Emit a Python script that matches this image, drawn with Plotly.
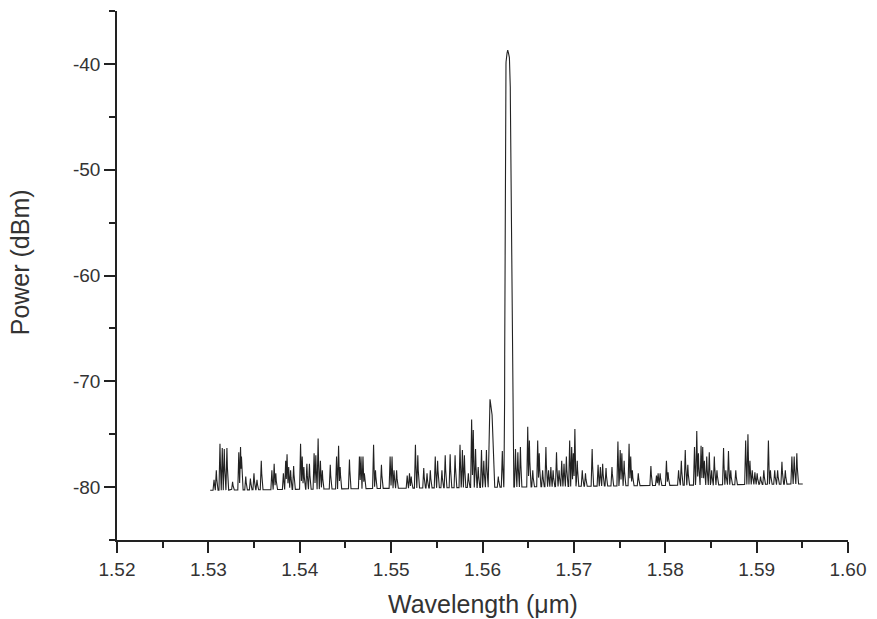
import numpy as np
import plotly.graph_objects as go

# Noise spikes of the ASE floor: centre wavelength (nm) and peak power (dBm)
spike_nm = [
    1530.62, 1530.87, 1531.27, 1531.52, 1531.74, 1532.03, 1532.65, 1533.33, 1533.52, 1533.62,
    1534.09, 1534.60, 1534.99, 1535.32, 1535.79, 1536.95, 1537.20, 1537.38, 1538.21, 1538.46,
    1538.61, 1538.79, 1539.00, 1539.33, 1540.09, 1540.27, 1540.45, 1540.78, 1541.06, 1541.57,
    1541.76, 1542.01, 1542.26, 1542.47, 1543.34, 1544.03, 1544.25, 1544.42, 1545.44, 1546.53,
    1546.70, 1546.92, 1547.07, 1548.08, 1548.29, 1548.94, 1549.89, 1550.10, 1550.32, 1550.60,
    1551.76, 1552.01, 1552.20, 1552.66, 1552.92, 1553.57, 1553.93, 1554.29, 1554.83, 1555.09,
    1555.56, 1555.92, 1556.46, 1557.00, 1557.54, 1557.80, 1558.02, 1558.45, 1558.81, 1558.99,
    1559.24, 1559.53, 1559.89, 1560.14, 1560.43, 1561.73, 1562.17,
    1563.61, 1563.87, 1564.15, 1564.95, 1565.13, 1565.50, 1566.04, 1566.21, 1566.58, 1566.94,
    1567.23, 1567.48, 1567.73, 1568.10, 1568.38, 1568.67, 1568.92, 1569.18, 1569.54, 1569.76,
    1569.94, 1570.11, 1570.37, 1570.92, 1571.27, 1572.00, 1572.65, 1572.90, 1573.15, 1573.52,
    1574.17, 1574.82, 1575.07, 1575.25, 1575.50, 1576.04, 1576.22, 1576.40, 1577.05, 1578.43,
    1579.04, 1579.22, 1579.44, 1580.13, 1580.31, 1581.46, 1581.76, 1582.19, 1582.47, 1583.20,
    1583.45, 1583.63, 1583.92, 1584.10, 1584.28, 1584.54, 1584.82, 1585.08, 1585.37, 1585.66,
    1586.38, 1586.63, 1586.92, 1587.17, 1587.72, 1588.80, 1589.05, 1589.27, 1589.52, 1589.81,
    1590.06, 1590.43, 1590.79, 1591.29, 1591.51, 1591.98, 1592.30, 1592.77, 1593.14, 1593.86,
    1594.11, 1594.40,
]
spike_dbm = [
    -79.3, -78.4, -75.9, -76.3, -76.4, -76.3, -79.5, -76.7, -76.2, -77.1,
    -79.0, -79.2, -78.7, -79.3, -77.5, -78.4, -77.8, -78.7, -78.7, -77.5,
    -76.9, -78.1, -78.4, -78.0, -75.9, -77.1, -78.1, -77.8, -77.8, -76.8,
    -77.0, -75.4, -77.5, -78.4, -77.9, -77.1, -76.1, -78.1, -77.4, -77.1,
    -77.1, -77.1, -78.7, -76.0, -78.4, -77.9, -77.1, -77.1, -78.4, -78.4,
    -78.9, -78.7, -79.0, -76.0, -77.0, -78.2, -78.7, -78.4, -77.1, -77.5,
    -78.4, -77.0, -76.9, -77.0, -76.0, -76.5, -77.0, -78.7, -73.6, -74.6,
    -76.4, -78.1, -76.5, -77.5, -76.5, -79.0, -76.6,
    -76.4, -76.7, -76.2, -74.3, -75.6, -78.4, -75.6, -76.8, -78.4, -76.2,
    -78.4, -78.1, -78.4, -76.7, -78.4, -77.5, -77.8, -77.1, -75.6, -76.2,
    -76.8, -74.5, -77.5, -78.4, -78.7, -76.4, -77.9, -78.1, -77.8, -78.2,
    -78.1, -75.7, -76.5, -76.8, -77.5, -75.9, -77.1, -78.4, -78.7, -78.0,
    -78.9, -78.7, -78.7, -77.5, -78.6, -78.4, -77.5, -76.5, -77.9, -76.2,
    -74.7, -76.8, -76.1, -76.2, -77.5, -77.1, -76.7, -78.4, -77.1, -78.4,
    -76.3, -78.4, -76.6, -78.4, -78.4, -75.6, -75.0, -77.5, -78.4, -78.6,
    -78.7, -79.0, -78.4, -75.6, -78.4, -78.4, -78.4, -77.6, -78.4, -77.1,
    -77.1, -76.8,
]

# Side mode near 1560.8 nm
side_nm = [1560.62, 1560.72, 1560.82, 1560.90, 1561.04, 1561.15, 1561.32]
side_dbm = [-80.2, -74.0, -71.7, -72.1, -72.9, -76.0, -80.2]

# Lasing line near 1562.8 nm
lase_nm = [1562.33, 1562.41, 1562.49, 1562.60, 1562.76, 1562.93, 1563.03, 1563.32, 1563.41]
lase_dbm = [-80.2, -76.0, -42.0, -39.3, -38.7, -39.2, -41.0, -76.0, -80.2]

# Noise floor at the two ends of the measured span
floor_nm = [1530.20, 1595.05]
floor_dbm = [-80.3, -79.7]

spike_half_width_nm = 0.11

# Build the spectrum on a fine wavelength grid
wl = np.arange(floor_nm[0], floor_nm[1] + 1e-9, 0.01)
power = np.interp(wl, floor_nm, floor_dbm)
for c, p in zip(spike_nm, spike_dbm):
    base = np.interp(c, floor_nm, floor_dbm)
    tri = p - (p - base) * np.abs(wl - c) / spike_half_width_nm
    power = np.maximum(power, np.where(np.abs(wl - c) <= spike_half_width_nm, tri, -200))
for xs, ys in ((side_nm, side_dbm), (lase_nm, lase_dbm)):
    prof = np.interp(wl, xs, ys, left=-200, right=-200)
    power = np.maximum(power, prof)

fig = go.Figure()
fig.add_trace(go.Scatter(
    x=wl / 1000.0, y=power, mode="lines",
    line=dict(color="#222222", width=1.1),
    hoverinfo="skip", showlegend=False,
))

FONT = "Liberation Sans, Arial, sans-serif"
axis_font = dict(family=FONT, size=19, color="#333333")
title_font = dict(family=FONT, size=25, color="#333333")
ink = "#222222"

fig.update_layout(
    width=877, height=619,
    margin=dict(l=117, r=22, t=11, b=79),
    paper_bgcolor="white", plot_bgcolor="white",
    xaxis=dict(
        range=[1.52, 1.60], tickmode="array",
        tickvals=[1.52, 1.53, 1.54, 1.55, 1.56, 1.57, 1.58, 1.59, 1.60],
        ticktext=["1.52", "1.53", "1.54", "1.55", "1.56", "1.57", "1.58", "1.59", "1.60"],
        showline=True, linecolor=ink, linewidth=1.5,
        ticks="outside", ticklen=11, tickwidth=1.5, tickcolor=ink,
        minor=dict(dtick=0.005, tick0=1.52, ticks="outside", ticklen=6, tickwidth=1.5, tickcolor=ink),
        showgrid=False, zeroline=False, tickfont=axis_font,
    ),
    yaxis=dict(
        range=[-85, -35], tickmode="array",
        tickvals=[-80, -70, -60, -50, -40],
        ticktext=["-80", "-70", "-60", "-50", "-40"],
        showline=True, linecolor=ink, linewidth=1.5,
        ticks="outside", ticklen=11, tickwidth=1.5, tickcolor=ink,
        minor=dict(dtick=5, tick0=-85, ticks="outside", ticklen=6, tickwidth=1.5, tickcolor=ink),
        showgrid=False, zeroline=False, tickfont=axis_font,
    ),
    annotations=[
        dict(text="Wavelength (μm)", xref="paper", yref="paper", x=0.5, y=0,
             xanchor="center", yanchor="middle", yshift=-64, showarrow=False, font=title_font),
        dict(text="Power (dBm)", xref="paper", yref="paper", x=0, y=0.525,
             xanchor="center", yanchor="middle", xshift=-97, textangle=-90,
             showarrow=False, font=title_font),
    ],
)

fig.write_html("out.html")
